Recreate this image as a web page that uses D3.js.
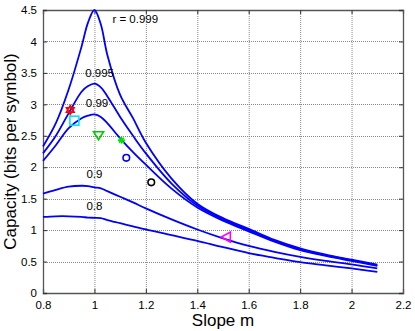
<!DOCTYPE html>
<html><head><meta charset="utf-8">
<script src="https://cdn.jsdelivr.net/npm/d3@7"></script>
<style>body{margin:0;background:#fff;}svg{display:block;font-family:Arial,"Liberation Sans",sans-serif;}</style>
</head><body>
<svg id="c" width="415" height="331"></svg>
<script>
const slopes = [0.8,0.85,0.9,0.95,0.975,1.0,1.025,1.05,1.1,1.15,1.2,1.3,1.4,1.5,1.6,1.7,1.8,1.9,2.0,2.1];
const r999 = [2.33,2.70,3.24,3.92,4.30,4.50,4.27,3.79,3.15,2.78,2.39,1.82,1.42,1.19,1.02,0.845,0.71,0.61,0.53,0.45];
const r995 = [2.22,2.50,2.86,3.20,3.29,3.33,3.27,3.13,2.80,2.50,2.22,1.74,1.39,1.17,1.00,0.83,0.695,0.60,0.52,0.44];
const r99  = [2.10,2.35,2.62,2.78,2.82,2.84,2.80,2.70,2.46,2.24,2.04,1.66,1.36,1.15,0.98,0.815,0.68,0.59,0.51,0.43];
const r9   = [1.58,1.64,1.69,1.705,1.70,1.68,1.665,1.62,1.53,1.44,1.345,1.17,1.01,0.87,0.75,0.655,0.575,0.51,0.455,0.39];
const r8   = [1.21,1.22,1.22,1.21,1.20,1.195,1.19,1.16,1.11,1.06,1.01,0.92,0.83,0.73,0.635,0.56,0.49,0.44,0.39,0.335];
const seriesLabels = ["r = 0.999","0.995","0.99","0.9","0.8"];
const labelPos = [[1.07,4.29,"start"],[1.02,3.43,"middle"],[1.01,2.96,"middle"],[1.0,1.83,"middle"],[1.0,1.32,"middle"]];
const markers = [
  {m:0.906,c:2.91,type:"hexagram",color:"#ff0000"},
  {m:0.922,c:2.74,type:"square",color:"#00e5ff"},
  {m:1.016,c:2.50,type:"down",color:"#00cc00"},
  {m:1.105,c:2.43,type:"star",color:"#00dd00"},
  {m:1.124,c:2.15,type:"circle",color:"#0000ff"},
  {m:1.221,c:1.76,type:"circle",color:"#000000"},
  {m:1.513,c:0.89,type:"left",color:"#ff00ff"}
];
const xTicks = [0.8,1,1.2,1.4,1.6,1.8,2,2.2];
const yTicks = [0,0.5,1,1.5,2,2.5,3,3.5,4,4.5];

const L=43,T=10,W=360,H=283;
const svg=d3.select("#c");
const x=d3.scaleLinear().domain([0.8,2.2]).range([L,L+W]);
const y=d3.scaleLinear().domain([0,4.5]).range([T+H,T]);

// grid
const g=svg.append("g");
g.selectAll(".gx").data(xTicks.slice(1,-1)).join("line")
  .attr("x1",d=>x(d)+0.5).attr("x2",d=>x(d)+0.5).attr("y1",T).attr("y2",T+H)
  .attr("stroke","#888").attr("stroke-dasharray","1,1");
g.selectAll(".gy").data(yTicks.slice(1,-1)).join("line")
  .attr("y1",d=>Math.round(y(d))+0.5).attr("y2",d=>Math.round(y(d))+0.5).attr("x1",L).attr("x2",L+W)
  .attr("stroke","#888").attr("stroke-dasharray","1,1");

// axes
const xa=svg.append("g").attr("transform",`translate(0,${T+H})`)
  .call(d3.axisBottom(x).tickValues(xTicks).tickSize(-4).tickPadding(8).tickFormat(d=>String(d)));
const xa2=svg.append("g").attr("transform",`translate(0,${T})`)
  .call(d3.axisTop(x).tickValues(xTicks).tickSize(-4).tickFormat(""));
const ya=svg.append("g").attr("transform",`translate(${L},0)`)
  .call(d3.axisLeft(y).tickValues(yTicks).tickSize(-4).tickPadding(6).tickFormat(d=>String(d)));
const ya2=svg.append("g").attr("transform",`translate(${L+W},0)`)
  .call(d3.axisRight(y).tickValues(yTicks).tickSize(-4).tickFormat(""));
[xa,xa2,ya,ya2].forEach(a=>{
  a.selectAll("path").attr("stroke","#555").attr("stroke-width",1.3);
  a.selectAll("line").attr("stroke","#333");
  a.selectAll("text").attr("font-size",11.5).attr("fill","#000").attr("font-family","Arial, 'Liberation Sans', sans-serif");
});

// curves
const line=d3.line().x((d,i)=>x(slopes[i])).y(d=>y(d)).curve(d3.curveCatmullRom.alpha(0.5));
[r999,r995,r99,r9,r8].forEach(s=>{
  svg.append("path").attr("d",line(s)).attr("fill","none").attr("stroke","#0000ff").attr("stroke-width",1.8);
});

// labels
seriesLabels.forEach((t,i)=>{
  svg.append("text").attr("x",x(labelPos[i][0])).attr("y",y(labelPos[i][1]))
    .attr("text-anchor",labelPos[i][2]).attr("font-size",11.5).text(t);
});

// markers
const mg=svg.append("g");
markers.forEach(mk=>{
  const cx=x(mk.m),cy=y(mk.c);
  if(mk.type==="circle"){
    mg.append("circle").attr("cx",cx).attr("cy",cy).attr("r",3.3).attr("fill","none").attr("stroke",mk.color).attr("stroke-width",1.6);
  } else if(mk.type==="square"){
    mg.append("rect").attr("x",cx-4.5).attr("y",cy-4.5).attr("width",9).attr("height",9).attr("fill","none").attr("stroke",mk.color).attr("stroke-width",1.6);
  } else if(mk.type==="down"){
    mg.append("path").attr("d",`M${cx-5},${cy-4}L${cx+5},${cy-4}L${cx},${cy+4}Z`).attr("fill","none").attr("stroke",mk.color).attr("stroke-width",1.6);
  } else if(mk.type==="left"){
    mg.append("path").attr("d",`M${cx-5},${cy}L${cx+4},${cy-5}L${cx+4},${cy+5}Z`).attr("fill","none").attr("stroke",mk.color).attr("stroke-width",1.6);
  } else if(mk.type==="hexagram"){
    const r=4.5;
    const p1=[0,1,2].map(k=>{const a=-Math.PI/2+k*2*Math.PI/3;return [cx+r*Math.cos(a),cy+r*Math.sin(a)];});
    const p2=[0,1,2].map(k=>{const a=Math.PI/2+k*2*Math.PI/3;return [cx+r*Math.cos(a),cy+r*Math.sin(a)];});
    [p1,p2].forEach(p=>mg.append("path").attr("d","M"+p.join("L")+"Z").attr("fill","none").attr("stroke",mk.color).attr("stroke-width",1.5));
  } else if(mk.type==="star"){
    const r=3.5;
    [[r,0],[0,r],[r*0.7,r*0.7],[r*0.7,-r*0.7]].forEach(([dx,dy])=>{
      mg.append("line").attr("x1",cx-dx).attr("y1",cy-dy).attr("x2",cx+dx).attr("y2",cy+dy).attr("stroke",mk.color).attr("stroke-width",1.6);
    });
  }
});

// axis titles
svg.append("text").attr("x",L+W/2).attr("y",326).attr("text-anchor","middle").attr("font-size",17).text("Slope m");
svg.append("text").attr("transform",`translate(16,${T+H/2}) rotate(-90)`).attr("text-anchor","middle").attr("font-size",17).text("Capacity (bits per symbol)");
</script>
</body></html>
